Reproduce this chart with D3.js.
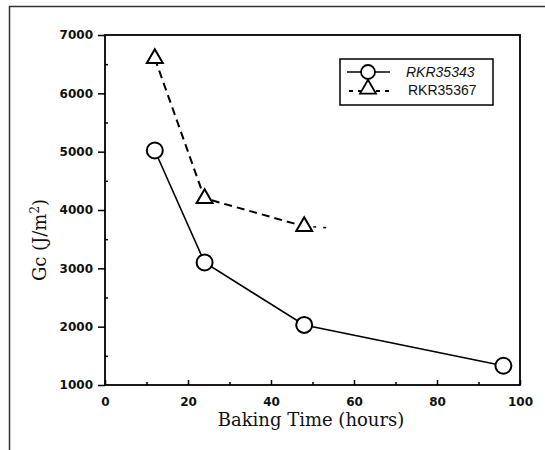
<!DOCTYPE html>
<html>
<head>
<meta charset="utf-8">
<script src="https://cdn.jsdelivr.net/npm/d3@7"></script>
<style>
  body { margin: 0; background: #fff; }
  svg { display: block; }
  .title { font-family: "DejaVu Serif", serif; font-size: 18px; fill: #111; }
  .leg { font-family: "Liberation Sans", sans-serif; font-size: 14px; fill: #111; }
</style>
</head>
<body>
<svg id="graph"></svg>
<script>
// baking time (hours) vs Gc (J/m^2)
var hoursA = [12, 24, 48, 96];
var gcA = [5020, 3100, 2030, 1330];
var hoursB = [12, 24, 48];
var gcB = [6600, 4200, 3720];
// faint dotted tail after the last triangle
var tailHours = [48, 55];
var tailGc = [3720, 3690];

var seriesNames = ["RKR35343", "RKR35367"];
var xTicks = [0, 20, 40, 60, 80, 100];
var yTicks = [1000, 2000, 3000, 4000, 5000, 6000, 7000];

var outerWidth = 545, outerHeight = 450;
var margins = { left: 105, top: 35, right: 25, bottom: 65 };
var innerWidth = outerWidth - margins.left - margins.right;
var innerHeight = outerHeight - margins.top - margins.bottom;

function styleTicks(a) {
  a.select('.domain').remove();
  a.attr('font-family', '"DejaVu Sans", sans-serif')
   .attr('font-size', 12)
   .attr('font-weight', 'bold');
  a.selectAll('text').attr('fill', '#111');
}

function drawGraph() {
  let svg = d3.select('svg#graph')
    .attr('width', outerWidth)
    .attr('height', outerHeight);

  // scanned page frame (left and top edges)
  svg.append('path')
    .attr('d', 'M9.5,450 L9.5,6.5 L545,6.5')
    .attr('fill', 'none')
    .attr('stroke', '#333')
    .attr('stroke-width', 1.5);

  let g = svg.append('g')
    .attr('transform', 'translate(' + margins.left + ',' + margins.top + ')');

  let x = d3.scaleLinear().domain([0, 100]).range([0, innerWidth]);
  let y = d3.scaleLinear().domain([1000, 7000]).range([innerHeight, 0]);

  // box
  g.append('rect')
    .attr('width', innerWidth)
    .attr('height', innerHeight)
    .attr('fill', 'none')
    .attr('stroke', '#000')
    .attr('stroke-width', 1.8);

  // minor ticks
  g.append('g')
    .attr('transform', 'translate(0,' + innerHeight + ')')
    .call(d3.axisBottom(x).tickValues(d3.range(10, 100, 20)).tickSize(-3).tickFormat(''))
    .call(a => a.select('.domain').remove());
  g.append('g')
    .call(d3.axisLeft(y).tickValues(d3.range(1500, 7000, 1000)).tickSize(-3).tickFormat(''))
    .call(a => a.select('.domain').remove());

  // major ticks
  let xAxis = d3.axisBottom(x).tickValues(xTicks).tickSize(-5).tickPadding(12).tickFormat(d3.format('d'));
  g.append('g')
    .attr('transform', 'translate(0,' + innerHeight + ')')
    .call(xAxis)
    .call(styleTicks);

  let yAxis = d3.axisLeft(y).tickValues(yTicks).tickSize(7).tickPadding(5).tickFormat(d3.format('d'));
  g.append('g')
    .call(yAxis)
    .call(styleTicks);

  g.selectAll('.tick line').attr('stroke', '#000').attr('stroke-width', 1.5);

  // axis titles
  svg.append('text')
    .attr('class', 'title')
    .attr('x', 311)
    .attr('y', 426)
    .attr('text-anchor', 'middle')
    .text('Baking Time (hours)');

  let yt = svg.append('text')
    .attr('class', 'title')
    .attr('text-anchor', 'middle')
    .attr('transform', 'translate(46,240) rotate(-90)');
  yt.append('tspan').text('Gc (J/m');
  yt.append('tspan').attr('dy', -7).attr('font-size', 12).text('2');
  yt.append('tspan').attr('dy', 7).text(')');

  let line = d3.line().x(d => x(d[0])).y(d => y(d[1]));
  let ptsA = d3.zip(hoursA, gcA);
  let ptsB = d3.zip(hoursB, gcB);

  g.append('path')
    .attr('d', line(ptsA))
    .attr('fill', 'none')
    .attr('stroke', '#000')
    .attr('stroke-width', 1.6);

  g.append('path')
    .attr('d', line(ptsB))
    .attr('fill', 'none')
    .attr('stroke', '#000')
    .attr('stroke-width', 2)
    .attr('stroke-dasharray', '8,5');

  g.append('path')
    .attr('d', line(d3.zip(tailHours, tailGc)))
    .attr('fill', 'none')
    .attr('stroke', '#000')
    .attr('stroke-width', 1.5)
    .attr('stroke-dasharray', '0,9,3,7,3,20');

  let tri = d3.symbol().type(d3.symbolTriangle).size(110);

  g.selectAll('circle.a')
    .data(ptsA)
    .enter().append('circle')
    .attr('cx', d => x(d[0]))
    .attr('cy', d => y(d[1]))
    .attr('r', 8)
    .attr('fill', '#fff')
    .attr('stroke', '#000')
    .attr('stroke-width', 2);

  g.selectAll('path.b')
    .data(ptsB)
    .enter().append('path')
    .attr('d', tri)
    .attr('transform', d => 'translate(' + x(d[0]) + ',' + y(d[1]) + ')')
    .attr('fill', '#fff')
    .attr('stroke', '#000')
    .attr('stroke-width', 2);

  // legend
  let leg = svg.append('g');
  leg.append('rect')
    .attr('x', 340).attr('y', 59)
    .attr('width', 153).attr('height', 46)
    .attr('fill', '#fff')
    .attr('stroke', '#000')
    .attr('stroke-width', 1.5);

  leg.append('line')
    .attr('x1', 347).attr('x2', 390).attr('y1', 72).attr('y2', 72)
    .attr('stroke', '#000').attr('stroke-width', 1.6);
  leg.append('circle')
    .attr('cx', 368).attr('cy', 72).attr('r', 7)
    .attr('fill', '#fff').attr('stroke', '#000').attr('stroke-width', 1.8);

  leg.append('line')
    .attr('x1', 349).attr('x2', 390).attr('y1', 91).attr('y2', 91)
    .attr('stroke', '#000').attr('stroke-width', 1.8)
    .attr('stroke-dasharray', '4,5');
  leg.append('path')
    .attr('d', tri)
    .attr('transform', 'translate(368,89)')
    .attr('fill', '#fff').attr('stroke', '#000').attr('stroke-width', 1.8);

  leg.append('text').attr('class', 'leg')
    .attr('x', 406).attr('y', 77)
    .attr('font-style', 'italic')
    .text(seriesNames[0]);
  leg.append('text').attr('class', 'leg')
    .attr('x', 408).attr('y', 95)
    .text(seriesNames[1]);
}

drawGraph();
</script>
</body>
</html>
